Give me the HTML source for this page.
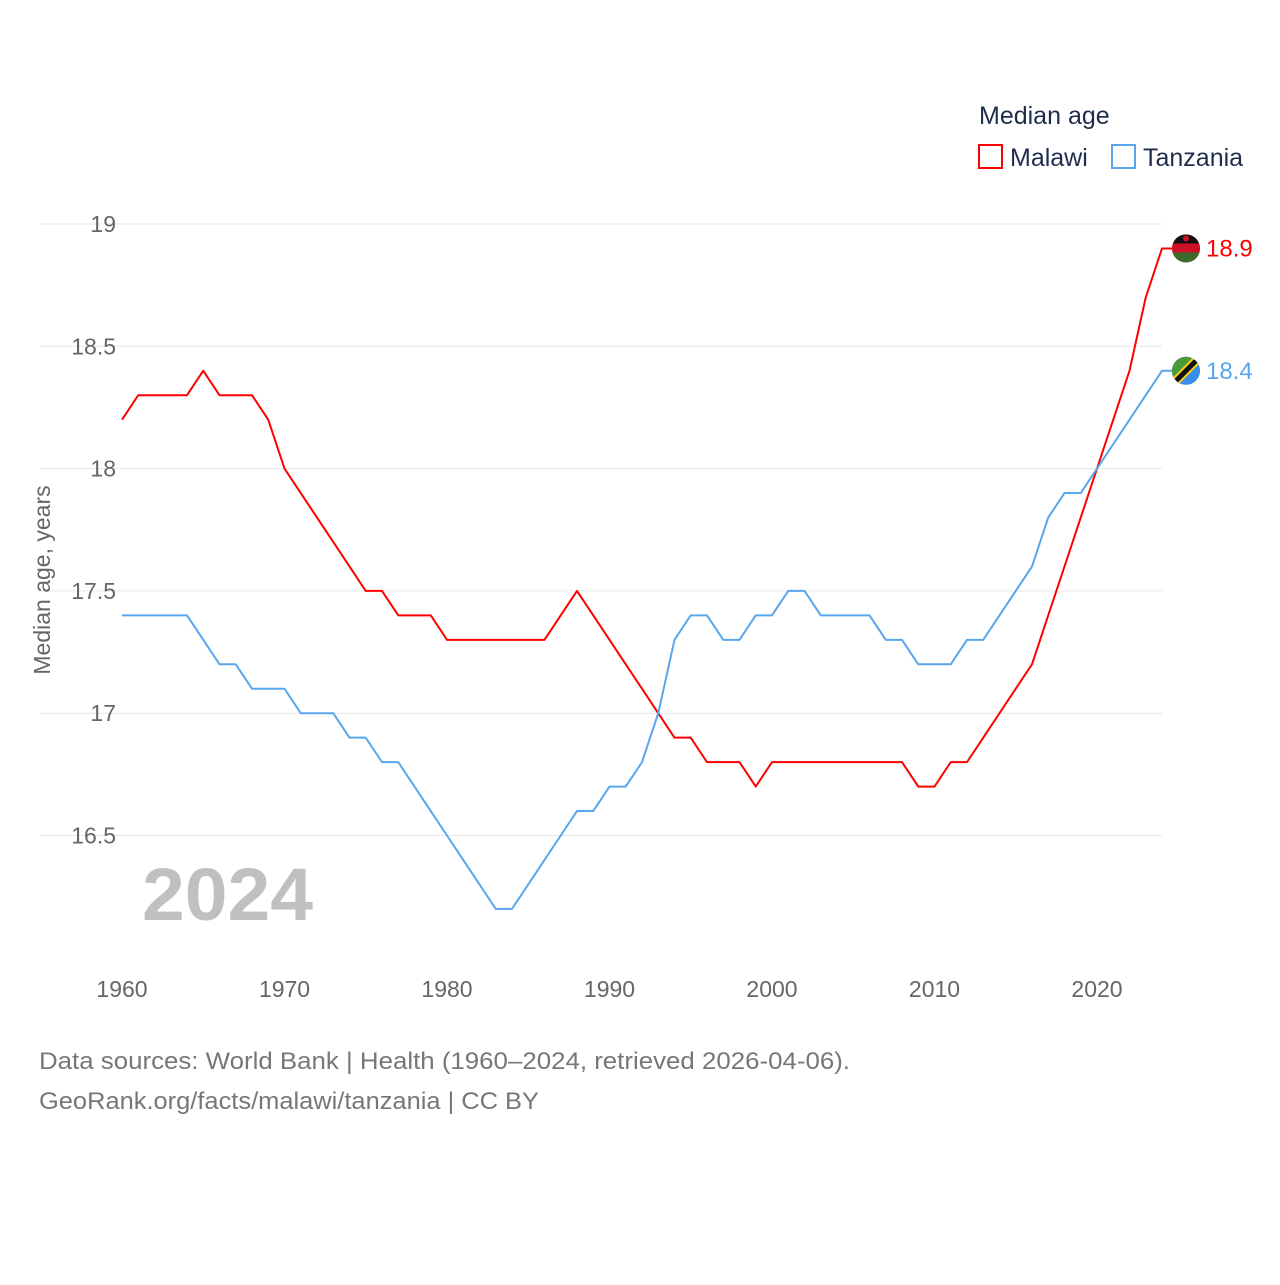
<!DOCTYPE html>
<html><head><meta charset="utf-8"><style>
body{margin:0;background:#fff;font-family:"Liberation Sans",sans-serif;}
svg text{font-family:"Liberation Sans",sans-serif;}
</style></head><body>
<svg id="chart" width="1280" height="1280" viewBox="0 0 1280 1280" xmlns="http://www.w3.org/2000/svg">
<defs>
<clipPath id="clipM"><circle id="cm" cx="1186" cy="248" r="14"/></clipPath>
<clipPath id="clipT"><circle id="ct" cx="1186" cy="370" r="14"/></clipPath>
</defs>
<g id="grid"></g>
<g id="yticks"></g>
<g id="xticks"></g>
<text x="142" y="920" font-size="74" font-weight="bold" fill="#c0c0c0" textLength="171" lengthAdjust="spacingAndGlyphs">2024</text>
<text transform="translate(50,580) rotate(-90)" text-anchor="middle" font-size="23" fill="#666">Median age, years</text>
<g id="series"></g>
<g>
<text x="979" y="124" font-size="25" fill="#1f2d4d">Median age</text>
<g><rect x="979" y="145" width="23" height="23" fill="none" stroke="#ff0000" stroke-width="2"/><text x="1010" y="166" font-size="25" fill="#1f2d4d">Malawi</text></g>
<g><rect x="1112" y="145" width="23" height="23" fill="none" stroke="#5aa6ee" stroke-width="2"/><text x="1143" y="166" font-size="25" fill="#1f2d4d">Tanzania</text></g>
</g>
<text x="39" y="1069" font-size="24" fill="#777" textLength="811" lengthAdjust="spacingAndGlyphs">Data sources: World Bank | Health (1960–2024, retrieved 2026-04-06).</text>
<text x="39" y="1109" font-size="24" fill="#777" textLength="500" lengthAdjust="spacingAndGlyphs">GeoRank.org/facts/malawi/tanzania | CC BY</text>
</svg>
<script>
const years=[];for(let y=1960;y<=2024;y++)years.push(y);
const malawi=[18.2,18.3,18.3,18.3,18.3,18.4,18.3,18.3,18.3,18.2,18.0,17.9,17.8,17.7,17.6,17.5,17.5,17.4,17.4,17.4,17.3,17.3,17.3,17.3,17.3,17.3,17.3,17.4,17.5,17.4,17.3,17.2,17.1,17.0,16.9,16.9,16.8,16.8,16.8,16.7,16.8,16.8,16.8,16.8,16.8,16.8,16.8,16.8,16.8,16.7,16.7,16.8,16.8,16.9,17.0,17.1,17.2,17.4,17.6,17.8,18.0,18.2,18.4,18.7,18.9];
const tanzania=[17.4,17.4,17.4,17.4,17.4,17.3,17.2,17.2,17.1,17.1,17.1,17.0,17.0,17.0,16.9,16.9,16.8,16.8,16.7,16.6,16.5,16.4,16.3,16.2,16.2,16.3,16.4,16.5,16.6,16.6,16.7,16.7,16.8,17.0,17.3,17.4,17.4,17.3,17.3,17.4,17.4,17.5,17.5,17.4,17.4,17.4,17.4,17.3,17.3,17.2,17.2,17.2,17.3,17.3,17.4,17.5,17.6,17.8,17.9,17.9,18.0,18.1,18.2,18.3,18.4];
const yTicks=[16.5,17,17.5,18,18.5,19];
const yTickLabels=["16.5","17","17.5","18","18.5","19"];
const xTicks=[1960,1970,1980,1990,2000,2010,2020];
const X=v=>122+(v-1960)*16.25;
const Y=v=>224+(19-v)*244.6;
const NS="http://www.w3.org/2000/svg";
function mk(tag,attrs,parent){const e=document.createElementNS(NS,tag);for(const k in attrs)e.setAttribute(k,attrs[k]);parent.appendChild(e);return e;}
const grid=document.getElementById('grid'),yt=document.getElementById('yticks'),xt=document.getElementById('xticks'),ser=document.getElementById('series');
yTicks.forEach((v,i)=>{
 const l=mk('line',{x1:40,x2:1162,y1:Y(v),y2:Y(v),stroke:'#e6e6e6','stroke-width':1},grid);
 
 
 const t=mk('text',{x:116,y:Y(v)+8,'text-anchor':'end','font-size':23,fill:'#666'},yt);
 t.textContent=yTickLabels[i];
 
 
});
xTicks.forEach(v=>{
 const t=mk('text',{x:X(v),y:997,'text-anchor':'middle','font-size':23,fill:'#666'},xt);
 t.textContent=v;
 
 
});
function series(vals,color,name,label){
 const d=vals.map((v,i)=>(i?'L':'M')+X(years[i])+','+Y(v)).join(' ')+' L'+(X(2024)+10)+','+Y(vals[vals.length-1]);
 const p=mk('path',{d:d,fill:'none',stroke:color,'stroke-width':2,'stroke-linejoin':'round'},ser);
 
 
 const last=vals[vals.length-1];
 const c=mk('circle',{cx:1186,cy:Y(last),r:14,fill:color},ser);
 
 
 const t=mk('text',{x:1206,y:Y(last)+8,'font-size':24,fill:color},ser);
 t.textContent=label;
 
 
 return c;
}
series(malawi,'#ff0000','malawi',malawi[malawi.length-1].toFixed(1));
series(tanzania,'#5aa6ee','tanzania',tanzania[tanzania.length-1].toFixed(1));
const ym=Y(malawi[64]);
document.getElementById('cm').setAttribute('cy',ym);
const gm=mk('g',{'clip-path':'url(#clipM)'},ser);
mk('rect',{x:1172,y:ym-14,width:28,height:9,fill:'#111'},gm);
mk('rect',{x:1172,y:ym-5,width:28,height:9,fill:'#ce1126'},gm);
mk('rect',{x:1172,y:ym+4,width:28,height:10,fill:'#3a6b2a'},gm);
mk('circle',{cx:1186,cy:ym-10,r:3,fill:'#ce1126'},gm);
const yz=Y(tanzania[64]);
document.getElementById('ct').setAttribute('cy',yz);
const gz=mk('g',{'clip-path':'url(#clipT)'},ser);
mk('rect',{x:1172,y:yz-14,width:28,height:28,fill:'#3a8ee8'},gz);
mk('path',{d:`M1172,${yz+14} L1172,${yz-14} L1200,${yz-14} Z`,fill:'#4a9a3a'},gz);
mk('line',{x1:1170,y1:yz+16,x2:1202,y2:yz-16,stroke:'#fcd116','stroke-width':9},gz);
mk('line',{x1:1170,y1:yz+16,x2:1202,y2:yz-16,stroke:'#111','stroke-width':5},gz);
</script>
</body></html>
